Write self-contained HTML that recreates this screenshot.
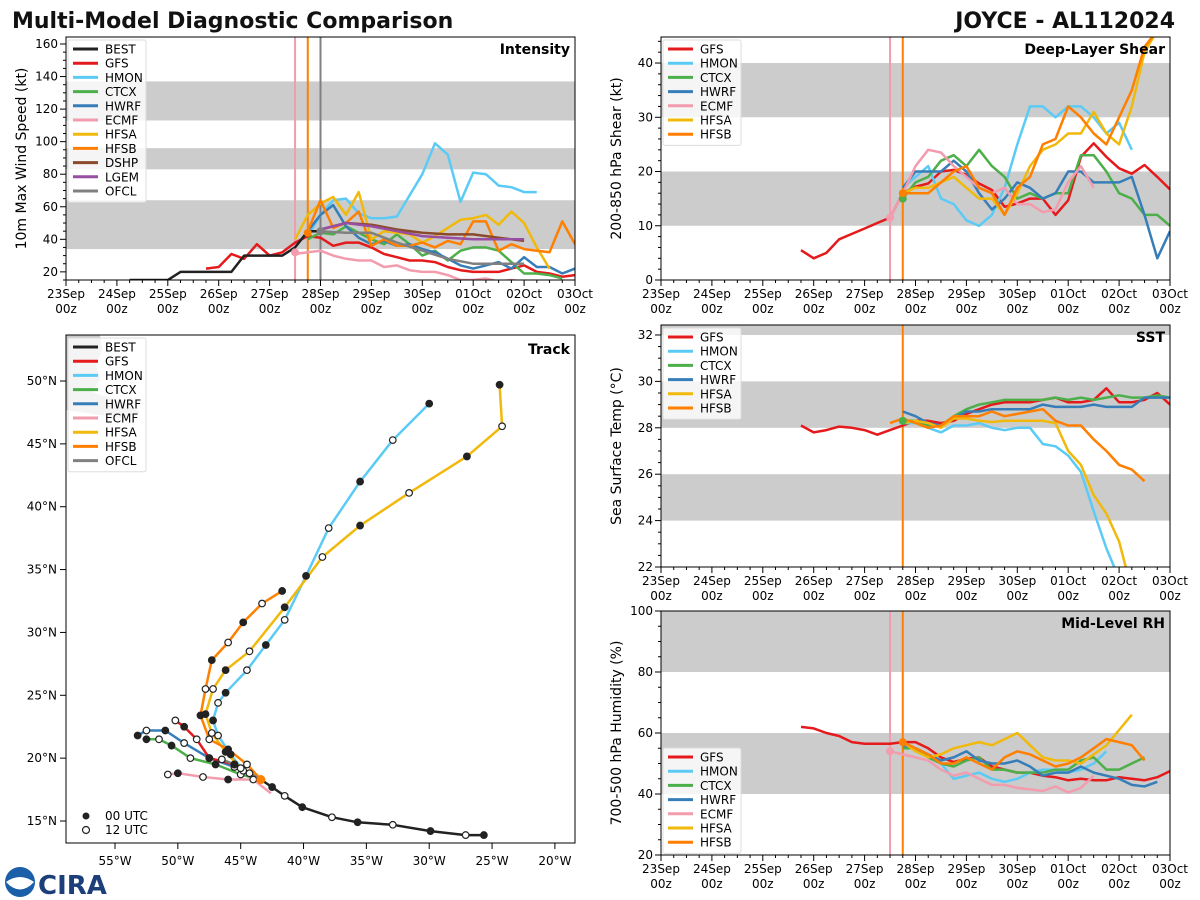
<!DOCTYPE html>
<html><head><meta charset="utf-8"><style>
body{margin:0;background:#fff;}
svg{display:block;font-family:"DejaVu Sans","Liberation Sans",sans-serif;}
</style></head><body>
<svg id="chart" width="1200" height="900" viewBox="0 0 1200 900" xmlns="http://www.w3.org/2000/svg">
<rect width="1200" height="900" fill="#fff"/>
<text x="12" y="28" font-size="22" font-weight="bold" fill="#111">Multi-Model Diagnostic Comparison</text>
<text x="1175" y="28" font-size="22" font-weight="bold" fill="#111" text-anchor="end">JOYCE - AL112024</text>
<g id="layer"></g>
<g>
<circle cx="20" cy="882" r="15" fill="#1a5fa8"/>
<path d="M6 882 Q20 872 34 882 Q20 897 6 882Z" fill="#fff"/>
<text x="38" y="894" font-size="26" font-weight="bold" fill="#1c3f7a">CIRA</text>
</g>
</svg>
<script>
// ---------- DATA ----------
const dayLabels = ["23Sep","24Sep","25Sep","26Sep","27Sep","28Sep","29Sep","30Sep","01Oct","02Oct","03Oct"];
const modelColors = {BEST:"#222222",GFS:"#e41a1c",HMON:"#5bcbf5",CTCX:"#4daf4a",HWRF:"#377eb8",ECMF:"#f29cae",HFSA:"#f0b90b",HFSB:"#ff7f00",DSHP:"#8b4a2b",LGEM:"#984ea3",OFCL:"#808080"};

// Intensity (kt): start hour + 6-hourly values
const intBEST = {start:30, vals:[15,15,15,15,20,20,20,20,20,30,30,30,30,35,45,45]};
const intGFS = {start:66, vals:[22,23,31,28,37,30,32,38,42,41,36,38,38,35,31,29,27,27,26,23,21,20,20,20,22,24,20,19,17,18]};
const intHMON = {start:114, vals:[42,55,64,65,56,53,53,54,67,80,99,92,63,81,80,73,72,69,69]};
const intCTCX = {start:114, vals:[40,44,43,48,44,40,37,43,37,30,33,27,33,35,35,33,26,19,19,18,16]};
const intHWRF = {start:114, vals:[45,55,61,48,41,37,39,36,37,34,32,28,24,22,24,26,22,29,23,23,19,22]};
const intECMF = {start:108, vals:[31,32,33,30,28,27,27,23,24,21,20,20,18,15,15,16,14,15,14]};
const intHFSA = {start:108, vals:[40,55,62,66,55,69,40,45,44,43,38,42,47,52,53,55,49,57,50,35,22]};
const intHFSB = {start:114, vals:[45,64,47,50,57,36,40,36,36,38,35,39,37,51,51,33,37,34,33,32,51,37]};
const intDSHP = {start:120, step:12, vals:[46,50,49,46,44,43,43,41,39]};
const intLGEM = {start:120, step:12, vals:[46,50,48,45,42,41,40,40,40]};
const intOFCL = {start:120, step:12, vals:[45,44,44,38,33,28,25,25,25]};

// Deep-layer shear (kt)
const shrGFS = {start:66, vals:[5.5,4,5,7.5,8.5,9.5,10.5,11.5,16,17.2,17.8,20,20.3,19.4,17.8,16.6,13.5,14.1,15,15,12,14.7,22.7,25.2,22.7,20.6,19.6,21.2,19,16.7]};
const shrHMON = {start:114, vals:[17,19,21,15,14,11,10,12,17,25,32,32,30,32,32,30,27,29,24]};
const shrCTCX = {start:114, vals:[15,18,19,22,23,21,24,21,19,15,16,15,16,16,23,23,20,16,15,12,12,10]};
const shrHWRF = {start:114, vals:[17,20,20,20,22,20,16,13,15,18,17,15,16,20,20,18,18,18,19,12,4,9]};
const shrECMF = {start:108, vals:[11.5,16,21,24,23.5,21,19,17,16,17,14,14,12.5,13,18,21,17]};
const shrHFSA = {start:114, vals:[16,17,17,18,19,17,15,15,12,16,21,24,25,27,27,31,27,25,32,42,46]};
const shrHFSB = {start:114, vals:[16,16,16,18,20,21,17,16,12,17,19,25,26,32,30,27,25,30,35,43,46]};

// SST (C)
const sstGFS = {start:66, vals:[28.1,27.8,27.9,28.05,28.0,27.9,27.7,27.9,28.1,28.3,28.3,28.2,28.3,28.6,28.8,29.0,29.1,29.1,29.1,29.2,29.3,29.1,29.1,29.2,29.7,29.1,29.1,29.2,29.5,29.0]};
const sstHMON = {start:114, vals:[28.2,28.2,28.0,27.8,28.1,28.1,28.2,28.0,27.9,28.0,28.0,27.3,27.2,26.8,26.1,24.4,22.8,21.5]};
const sstCTCX = {start:114, vals:[28.3,28.3,28.1,28.1,28.5,28.8,29.0,29.1,29.2,29.2,29.2,29.2,29.3,29.2,29.3,29.2,29.3,29.4,29.3,29.3,29.4,29.3]};
const sstHWRF = {start:114, vals:[28.7,28.5,28.2,28.1,28.4,28.7,28.7,28.8,28.8,28.8,28.8,29.0,28.9,28.9,28.9,29.0,28.9,28.9,28.9,29.3,29.3,29.3]};
const sstHFSA = {start:114, vals:[28.2,28.3,28.2,28.0,28.4,28.4,28.3,28.25,28.3,28.3,28.3,28.3,28.2,27.0,26.4,25.1,24.3,23.1,21.0]};
const sstHFSB = {start:108, vals:[28.2,28.4,28.2,28.0,28.1,28.5,28.5,28.5,28.7,28.5,28.6,28.7,28.8,28.3,28.1,28.1,27.5,27.0,26.4,26.2,25.7]};

// Mid-level RH (%)
const rhGFS = {start:66, vals:[62,61.5,60,59,57,56.5,56.5,56.5,57,57,55,52,50.5,51.5,52,49,48,47,47,46,45.5,44.5,45,44.5,44.5,45.5,45,44.5,45.5,47.5]};
const rhHMON = {start:114, vals:[57,55,52,50,45,46,47,45,44,45,47,48,48,47,48,50,54]};
const rhCTCX = {start:114, vals:[55,55,52,50,49,51,52,48,48,47,47,47,48,48,51,52,48,48,50,52]};
const rhHWRF = {start:114, vals:[56,55,53,51,52,54,51,50,50,51,49,46,47,47,49,47,46,45,43,42.5,44]};
const rhECMF = {start:108, vals:[54,53,52,51,48,46,47,45,43,43,42,41.5,41,42.5,40.5,42,46]};
const rhHFSA = {start:114, vals:[57,54,52,53,55,56,57,56,58,60,56,52,51,51,50,53,56,61,66]};
const rhHFSB = {start:114, vals:[57,55,53,50,50,52,50,48,52,54,53,51,49,50,52,55,58,57,56,51]};

// Track (lon, lat) 12-hourly
const trkBESTlon = [-25.65,-27.1,-29.9,-32.9,-35.7,-37.74,-40.1,-41.5,-42.5,-43.4];
const trkBESTlat = [13.88,13.88,14.2,14.7,14.9,15.3,16.1,17.0,17.7,18.3];
const trkHMONlon = [-43.4,-44.8,-45.8,-46.8,-47.2,-46.8,-46.2,-44.5,-43,-41.5,-39.8,-38,-35.5,-32.9,-30];
const trkHMONlat = [18.3,19.0,20.3,21.8,23.0,24.4,25.2,27.0,29,31,34.5,38.3,42,45.3,48.2];
const trkHFSAlon = [-43.4,-45,-46.2,-47.3,-47.8,-47.2,-46.2,-44.3,-41.5,-38.5,-35.5,-31.6,-27,-24.2,-24.4];
const trkHFSAlat = [18.3,19.2,20.5,22.0,23.5,25.5,27.0,28.5,32,36.0,38.5,41.1,44,46.4,49.7];
const trkHFSBlon = [-43.4,-44.5,-46,-47.5,-48.2,-47.8,-47.3,-46,-44.8,-43.3,-41.7];
const trkHFSBlat = [18.3,19.5,20.7,21.5,23.4,25.5,27.8,29.2,30.8,32.3,33.3];
const trkHWRFlon = [-43.4,-45.5,-47.5,-49.5,-51,-52.5,-53.2];
const trkHWRFlat = [18.3,19.3,20.0,21.2,22.2,22.2,21.8];
const trkCTCXlon = [-43.4,-45,-47,-49,-50.5,-51.5,-52.5];
const trkCTCXlat = [18.3,18.7,19.5,20.0,21.0,21.5,21.5];
const trkECMFlon = [-42.6,-44,-46,-48,-50,-50.8];
const trkECMFlat = [17.2,18.3,18.3,18.5,18.8,18.7];
const trkGFSlon = [-43.4,-45.5,-47.5,-48.5,-49.5,-50.2];
const trkGFSlat = [18.3,19.5,20.0,21.5,22.5,23.0];
const trkOFCLlon = [-43.4,-44.3,-45.5,-46.5];
const trkOFCLlat = [18.3,18.8,19.5,19.9];

// ---------- DRAWING ----------
const NS="http://www.w3.org/2000/svg";
const layer=document.getElementById('layer');
function mk(tag,attrs,parent){const e=document.createElementNS(NS,tag);for(const k in attrs)e.setAttribute(k,attrs[k]);(parent||layer).appendChild(e);return e;}

function timePanel(p){
  const g=mk('g',{});
  
  
  const xS=h=>p.x0+h/240*(p.x1-p.x0);
  const yS=v=>p.y1-(v-p.lo)/(p.hi-p.lo)*(p.y1-p.y0);
  const clip='clip-'+p.name;
  const cp=mk('clipPath',{id:clip},g);
  mk('rect',{x:p.x0,y:p.y0,width:p.x1-p.x0,height:p.y1-p.y0},cp);
  p.bands.forEach(b=>{
    const r=mk('rect',{x:p.x0,y:yS(Math.min(b[1],p.hi)),width:p.x1-p.x0,height:yS(b[0])-yS(Math.min(b[1],p.hi)),fill:'#cccccc'},g);
    
    
  });
  for(let h=0;h<=240;h+=6){
    const major=h%24===0;
    mk('line',{x1:xS(h),x2:xS(h),y1:p.y1,y2:p.y1+(major?6:3),stroke:'#000','stroke-width':1},g);
    if(major){
      const t=mk('text',{x:xS(h),y:p.y1+18,'font-size':12,'text-anchor':'middle'},g);
      t.textContent=dayLabels[h/24];
      
      
      const t2=mk('text',{x:xS(h),y:p.y1+33,'font-size':12,'text-anchor':'middle'},g);
      t2.textContent='00z';
      
      
    }
  }
  for(let v=Math.ceil(p.lo/p.minor)*p.minor;v<=p.hi+1e-9;v+=p.minor){
    const major=Math.abs(v/p.major-Math.round(v/p.major))<1e-6;
    mk('line',{x1:p.x0,x2:p.x0-(major?6:3),y1:yS(v),y2:yS(v),stroke:'#000','stroke-width':1},g);
    if(major){
      const t=mk('text',{x:p.x0-8,y:yS(v)+4,'font-size':12,'text-anchor':'end'},g);
      t.textContent=Math.round(v);
      
      
    }
  }
  const yt=mk('text',{x:0,y:0,'font-size':14,'text-anchor':'middle',transform:`translate(${p.x0-40},${(p.y0+p.y1)/2}) rotate(-90)`},g);
  yt.textContent=p.ytitle;
  
  
  const lg=mk('g',{'clip-path':`url(#${clip})`},g);
  p.vlines.forEach(v=>{
    const l=mk('line',{x1:xS(v[0]),x2:xS(v[0]),y1:p.y0,y2:p.y1,stroke:v[1],'stroke-width':2},lg);
    
    
  });
  p.series.forEach(s=>{
    const st=s.d.step||6;
    const pts=s.d.vals.map((v,i)=>xS(s.d.start+i*st).toFixed(1)+','+yS(v).toFixed(1)).join(' ');
    const pl=mk('polyline',{points:pts,fill:'none',stroke:modelColors[s.m],'stroke-width':s.w||2.5,'stroke-linejoin':'round'},lg);
    
    
  });
  (p.dots||[]).forEach(d=>{
    const c=mk('circle',{cx:xS(d[0]),cy:yS(d[1]),r:4,fill:modelColors[d[2]]},lg);
    
    
  });
  mk('rect',{x:p.x0,y:p.y0,width:p.x1-p.x0,height:p.y1-p.y0,fill:'none',stroke:'#000','stroke-width':1},g);
  const tt=mk('text',{x:p.x1-5,y:p.y0+17,'font-size':14,'font-weight':'bold','text-anchor':'end'},g);
  tt.textContent=p.title;
  
  
  const lgd=legend(g,p.x0+2,p.y0+3,p.legend);
  if(p.legendShift) lgd.setAttribute('transform','translate(0,'+p.legendShift+')');
}
function legend(g,x,y,names,extraH){
  const h=names.length*14.2+6+(extraH||0);
  const lg=mk('g',{},g);
  
  
  mk('rect',{x:x,y:y,width:78,height:h,fill:'#fff','fill-opacity':0.8,stroke:'#ddd',rx:2},lg);
  names.forEach((n,i)=>{
    const yy=y+9+i*14.2;
    const e=mk('g',{},lg);
    
    
    mk('line',{x1:x+5,x2:x+30,y1:yy,y2:yy,stroke:modelColors[n],'stroke-width':3},e);
    const t=mk('text',{x:x+37,y:yy+4.5,'font-size':12},e);
    t.textContent=n;
  });
  return lg;
}
timePanel({name:'intensity-panel',x0:66,x1:575,y0:37,y1:280,lo:15,hi:164.3,major:20,minor:5,title:'Intensity',ytitle:'10m Max Wind Speed (kt)',
  bands:[[34,64],[83,96],[113,137]],vlines:[[108,'#f29cae'],[114,'#ff7f00'],[120,'#808080']],
  series:[{m:'ECMF',d:intECMF},{m:'GFS',d:intGFS},{m:'HMON',d:intHMON},{m:'CTCX',d:intCTCX},{m:'HWRF',d:intHWRF},{m:'HFSA',d:intHFSA},{m:'HFSB',d:intHFSB},{m:'DSHP',d:intDSHP},{m:'LGEM',d:intLGEM},{m:'OFCL',d:intOFCL},{m:'BEST',d:intBEST}],
  dots:[[108,32,'ECMF'],[114,44,'HFSB'],[120,45,'OFCL']],
  legend:['BEST','GFS','HMON','CTCX','HWRF','ECMF','HFSA','HFSB','DSHP','LGEM','OFCL']});
timePanel({name:'shear-panel',x0:661,x1:1170,y0:37,y1:280,lo:0,hi:44.8,major:10,minor:2,title:'Deep-Layer Shear',ytitle:'200-850 hPa Shear (kt)',
  bands:[[10,20],[30,40]],vlines:[[108,'#f29cae'],[114,'#ff7f00']],
  series:[{m:'GFS',d:shrGFS},{m:'HMON',d:shrHMON},{m:'CTCX',d:shrCTCX},{m:'HWRF',d:shrHWRF},{m:'ECMF',d:shrECMF},{m:'HFSA',d:shrHFSA},{m:'HFSB',d:shrHFSB}],
  dots:[[108,11.5,'ECMF'],[114,15,'CTCX'],[114,16,'HFSB']],
  legend:['GFS','HMON','CTCX','HWRF','ECMF','HFSA','HFSB']});
timePanel({name:'sst-panel',x0:661,x1:1170,y0:325,y1:567,lo:22,hi:32.43,major:2,minor:0.5,title:'SST',ytitle:'Sea Surface Temp (°C)',
  bands:[[24,26],[28,30],[32,33]],vlines:[[114,'#ff7f00']],
  series:[{m:'GFS',d:sstGFS},{m:'HMON',d:sstHMON},{m:'CTCX',d:sstCTCX},{m:'HWRF',d:sstHWRF},{m:'HFSA',d:sstHFSA},{m:'HFSB',d:sstHFSB}],
  dots:[[114,28.3,'CTCX']],
  legend:['GFS','HMON','CTCX','HWRF','HFSA','HFSB']});
timePanel({name:'rh-panel',x0:661,x1:1170,y0:611,y1:855,lo:20,hi:100,major:20,minor:5,title:'Mid-Level RH',ytitle:'700-500 hPa Humidity (%)',
  bands:[[40,60],[80,100]],vlines:[[108,'#f29cae'],[114,'#ff7f00']],
  series:[{m:'GFS',d:rhGFS},{m:'HMON',d:rhHMON},{m:'CTCX',d:rhCTCX},{m:'HWRF',d:rhHWRF},{m:'ECMF',d:rhECMF},{m:'HFSA',d:rhHFSA},{m:'HFSB',d:rhHFSB}],
  dots:[[108,54,'ECMF'],[114,57,'HFSB']],legendShift:134,
  legend:['GFS','HMON','CTCX','HWRF','ECMF','HFSA','HFSB']});

// ---------- TRACK ----------
(function(){
  const x0=66,x1=575,y0=335,y1=843,lonLo=-58.9,lonHi=-18.4,latLo=13.25,latHi=53.66;
  const xS=lon=>x0+(lon-lonLo)/(lonHi-lonLo)*(x1-x0);
  const yS=lat=>y1-(lat-latLo)/(latHi-latLo)*(y1-y0);
  const g=mk('g',{});
  
  
  const cp=mk('clipPath',{id:'clip-track'},g);
  mk('rect',{x:x0,y:y0,width:x1-x0,height:y1-y0},cp);
  const cg=mk('g',{'clip-path':'url(#clip-track)'},g);
  const land=mk('path',{d:'M66 335 L100 335 L102 350 L96 365 L100 380 L92 392 L110 398 L128 404 L140 412 L125 418 L100 415 L80 412 L66 410Z',fill:'#c8c8c8'},cg);
  
  
  const tracks=[['ECMF',trkECMFlon,trkECMFlat],['CTCX',trkCTCXlon,trkCTCXlat],['HWRF',trkHWRFlon,trkHWRFlat],['GFS',trkGFSlon,trkGFSlat],['HMON',trkHMONlon,trkHMONlat],['HFSA',trkHFSAlon,trkHFSAlat],['HFSB',trkHFSBlon,trkHFSBlat],['OFCL',trkOFCLlon,trkOFCLlat],['BEST',trkBESTlon,trkBESTlat]];
  tracks.forEach(t=>{
    const pts=t[1].map((lo,i)=>xS(lo).toFixed(1)+','+yS(t[2][i]).toFixed(1)).join(' ');
    const pl=mk('polyline',{points:pts,fill:'none',stroke:modelColors[t[0]],'stroke-width':2.5,'stroke-linejoin':'round'},cg);
    
    
  });
  tracks.forEach(t=>{
    t[1].forEach((lo,i)=>{
      if(i===0 && t[0]!=='BEST') return;
      const filled=(i%2===0);
      const c=mk('circle',{cx:xS(lo),cy:yS(t[2][i]),r:3.3,fill:filled?'#222':'#fff',stroke:'#222','stroke-width':1.2},cg);
      
      
    });
  });
  const sc=mk('circle',{cx:xS(-43.4),cy:yS(18.3),r:4.5,fill:'#ff7f00'},cg);
  
  
  mk('rect',{x:x0,y:y0,width:x1-x0,height:y1-y0,fill:'none',stroke:'#000','stroke-width':1},g);
  for(let lon=-55;lon<=-20;lon+=5){
    mk('line',{x1:xS(lon),x2:xS(lon),y1:y1,y2:y1+6,stroke:'#000'},g);
    const t=mk('text',{x:xS(lon),y:y1+22,'font-size':12,'text-anchor':'middle'},g);
    t.textContent=(-lon)+'°W';
    
    
  }
  for(let lat=15;lat<=50;lat+=5){
    mk('line',{x1:x0,x2:x0-6,y1:yS(lat),y2:yS(lat),stroke:'#000'},g);
    const t=mk('text',{x:x0-9,y:yS(lat)+4,'font-size':12,'text-anchor':'end'},g);
    t.textContent=lat+'°N';
    
    
  }
  const tt=mk('text',{x:x1-5,y:y0+19,'font-size':14,'font-weight':'bold','text-anchor':'end'},g);
  tt.textContent='Track';
  
  
  legend(g,x0+2,y0+3,['BEST','GFS','HMON','CTCX','HWRF','ECMF','HFSA','HFSB','OFCL']);
  const ml=mk('g',{},g);
  
  
  mk('rect',{x:x0+2,y:806,width:80,height:34,fill:'#fff','fill-opacity':0.8,stroke:'none'},ml);
  mk('circle',{cx:86,cy:816,r:3.5,fill:'#222'},ml);
  mk('circle',{cx:86,cy:830,r:3.5,fill:'#fff',stroke:'#222','stroke-width':1.2},ml);
  const a=mk('text',{x:105,y:820,'font-size':12},ml);a.textContent='00 UTC';
  const b=mk('text',{x:105,y:834,'font-size':12},ml);b.textContent='12 UTC';
})();
</script>
</body></html>
